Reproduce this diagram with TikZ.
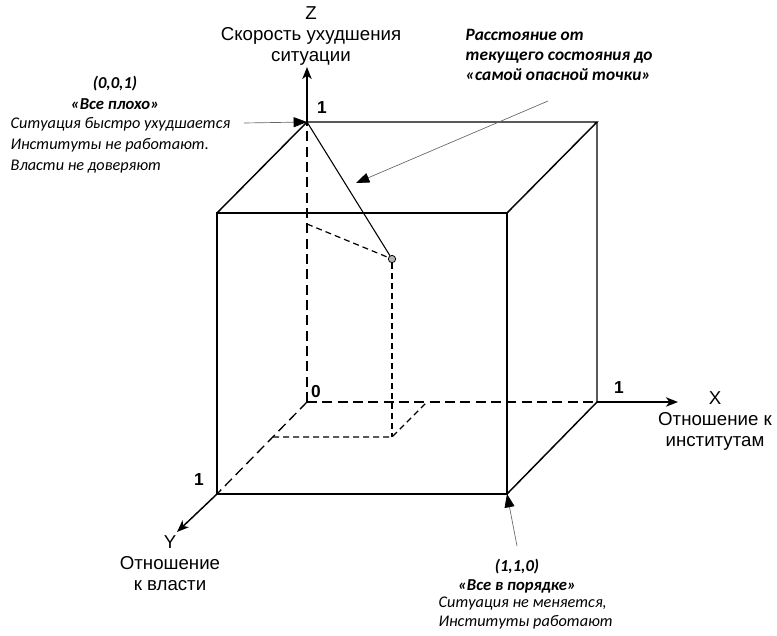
\documentclass[tikz,border=0pt]{standalone}
\usepackage{fontspec}
\setmainfont{Liberation Sans}
\newfontfamily\notefont{Carlito}
\usetikzlibrary{arrows.meta}
\begin{document}
\begin{tikzpicture}[x=0.75pt,y=-0.75pt,line join=miter]
\useasboundingbox (0,0) rectangle (777,635);
\tikzset{
  edge/.style={line width=1.1pt},
  hid/.style={line width=1pt,dash pattern=on 7.5pt off 4pt},
  proj/.style={line width=0.9pt,dash pattern=on 4.5pt off 3pt},
  axisarrow/.style={line width=1.1pt,-{Stealth[length=9pt,width=7pt,inset=2.5pt]}},
  pointer/.style={line width=0.5pt,draw=black!60,-{Triangle[length=10pt,width=7.5pt,color=black]}},
  ray/.style={line width=0.8pt},
  dot/.style={circle,draw=black,fill=black!30,line width=0.6pt,inner sep=0pt,minimum size=5.5pt},
  axlabel/.style={font=\fontsize{14}{16}\selectfont,align=center},
  num/.style={font=\bfseries\fontsize{13}{15}\selectfont},
  notetitle/.style={font=\notefont\bfseries\itshape\fontsize{12.5}{15.5}\selectfont,align=center},
  notebody/.style={font=\notefont\itshape\fontsize{12.2}{15.75}\selectfont,align=left},
}
% cube corners
\coordinate (O) at (307,402);
\coordinate (B) at (307,122);
\coordinate (BR) at (597,122);
\coordinate (X1) at (597,402);
\coordinate (Y1) at (217,494);
\coordinate (F1) at (217,213);
\coordinate (F2) at (507,213);
\coordinate (F3) at (507,494);
% axis tips
\coordinate (ztip) at (307,67);
\coordinate (xtip) at (678,402);
\coordinate (ytip) at (177,532);
% front face and visible edges
\draw[edge] (F1) rectangle (F3);
\draw[edge] (F1) -- (B) -- (BR) -- (F2);
\draw[edge] (BR) -- (X1) -- (F3);
% hidden axes inside the cube
\draw[hid] (O) -- (B);
\draw[hid] (O) -- (X1);
\draw[hid] (O) -- (Y1);
% axes outside
\draw[axisarrow] (B) -- (ztip);
\draw[axisarrow] (X1) -- (xtip);
\draw[axisarrow] (Y1) -- (ytip);
% current point and projections
\node[dot] (P) at (392,259) {};
\coordinate (Pz) at (307,224);
\coordinate (Pb) at (392,437);
\coordinate (Py) at (273,437);
\coordinate (Px) at (427,402);
\draw[proj] (Pz) -- (P);
\draw[proj] (P) -- (Pb);
\draw[proj] (Py) -- (Pb) -- (Px);
\draw[ray] (B) -- (P);
% axis labels
\node[axlabel] (zlab) at (311,36) {Z\\Скорость ухудшения\\ситуации};
\node[axlabel] (xlab) at (715,421) {X\\Отношение к\\институтам};
\node[axlabel] (ylab) at (170,563) {Y\\Отношение\\к власти};
% numbers
\node[num] (n1z) at (322,108) {1};
\node[num] (n0) at (316,392) {0};
\node[num] (n1x) at (619,388) {1};
\node[num] (n1y) at (199,480) {1};
% note: (0,0,1)
\node[notetitle] (t1) at (115,93) {(0,0,1)\\«Все плохо»};
\node[notebody,anchor=west] (b1) at (6,145) {Ситуация быстро ухудшается\\Институты не работают.\\Власти не доверяют};
\coordinate (a1) at (244,123);
\draw[pointer] (a1) -- (B);
% note: distance
\node[notetitle,align=left,anchor=west,font=\notefont\bfseries\itshape\fontsize{13}{15}\selectfont] (t2) at (461,55) {Расстояние от\\текущего состояния до\\«самой опасной точки»};
\coordinate (a2s) at (548,101);
\coordinate (a2e) at (356,183);
\draw[pointer] (a2s) -- (a2e);
% note: (1,1,0)
\node[notetitle,font=\notefont\bfseries\itshape\fontsize{12.5}{14.25}\selectfont] (t3) at (517,576) {(1,1,0)\\«Все в порядке»};
\node[notebody,anchor=west,font=\notefont\itshape\fontsize{12.2}{14}\selectfont] (b3) at (434,613) {Ситуация не меняется,\\Институты работают};
\coordinate (a3) at (517,546);
\draw[pointer] (a3) -- (F3);
\end{tikzpicture}
\end{document}
